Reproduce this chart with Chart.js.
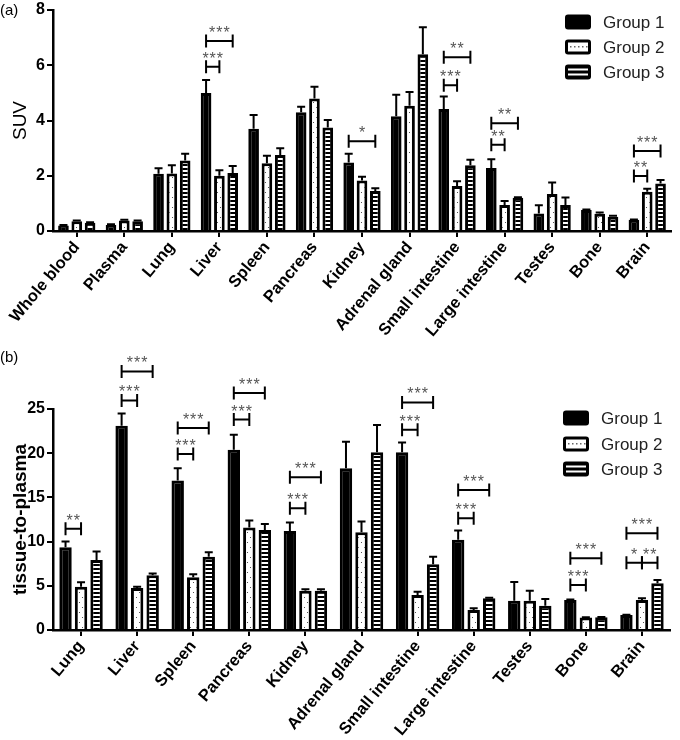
<!DOCTYPE html>
<html><head><meta charset="utf-8">
<script src="https://cdn.jsdelivr.net/npm/chart.js@4.4.0/dist/chart.umd.min.js"></script>
<style>
html,body{margin:0;padding:0;background:#fff;}
#wrap{position:relative;width:680px;height:740px;overflow:hidden;}
canvas{position:absolute;left:0;}
</style></head><body>
<div id="wrap">
<canvas id="ca" width="680" height="360" style="top:0"></canvas>
<canvas id="cb" width="680" height="400" style="top:340px"></canvas>
</div>
<script>
// ---------- DATA ----------
const groupNames = ['Group 1', 'Group 2', 'Group 3'];

const suvCategories = ['Whole blood','Plasma','Lung','Liver','Spleen','Pancreas','Kidney','Adrenal gland','Small intestine','Large intestine','Testes','Bone','Brain'];
const suvG1    = [0.20, 0.22, 2.07, 5.00, 3.70, 4.30, 2.48, 4.15, 4.42, 2.28, 0.63, 0.76, 0.41];
const suvG1Err = [0.02, 0.02, 0.20, 0.47, 0.50, 0.20, 0.32, 0.78, 0.45, 0.32, 0.30, 0.02, 0.01];
const suvG2    = [0.35, 0.38, 2.08, 2.00, 2.45, 4.80, 1.83, 4.53, 1.63, 0.94, 1.34, 0.62, 1.42];
const suvG2Err = [0.03, 0.03, 0.30, 0.20, 0.27, 0.42, 0.13, 0.50, 0.17, 0.15, 0.42, 0.05, 0.11];
const suvG3    = [0.30, 0.35, 2.55, 2.10, 2.75, 3.75, 1.45, 6.40, 2.38, 1.20, 0.94, 0.52, 1.72];
const suvG3Err = [0.02, 0.03, 0.25, 0.25, 0.25, 0.27, 0.10, 0.98, 0.20, 0.02, 0.27, 0.03, 0.13];
const suvTicks = [0, 2, 4, 6, 8];
// significance: [category index, group from, group to, bracket height (SUV), label]
const suvSig = [
  [3, 0, 1, 5.95, '***'], [3, 0, 2, 6.88, '***'],
  [6, 0, 2, 3.25, '*'],
  [8, 0, 1, 5.28, '***'], [8, 0, 2, 6.29, '**'],
  [9, 0, 1, 3.12, '**'], [9, 0, 2, 3.90, '**'],
  [12, 0, 1, 1.99, '**'], [12, 0, 2, 2.90, '***']
];

const tpCategories = ['Lung','Liver','Spleen','Pancreas','Kidney','Adrenal gland','Small intestine','Large intestine','Testes','Bone','Brain'];
const tpG1    = [9.35, 23.1, 16.9, 20.4, 11.2, 18.3, 20.1, 10.2, 3.32, 3.40, 1.70];
const tpG1Err = [0.65, 1.40, 1.40, 1.70, 0.95, 3.00, 1.10, 1.05, 2.10, 0.05, 0.02];
const tpG2    = [4.90, 4.75, 5.97, 11.6, 4.45, 11.06, 3.96, 2.26, 3.32, 1.40, 3.40];
const tpG2Err = [0.50, 0.15, 0.33, 0.80, 0.15, 1.20, 0.38, 0.20, 1.13, 0.05, 0.20];
const tpG3    = [7.93, 6.20, 8.30, 11.3, 4.45, 20.1, 7.44, 3.59, 2.75, 1.45, 5.28];
const tpG3Err = [0.94, 0.18, 0.50, 0.70, 0.15, 3.10, 0.86, 0.06, 0.75, 0.02, 0.38];
const tpTicks = [0, 5, 10, 15, 20, 25];
const tpSig = [
  [0, 0, 1, 11.44, '**'],
  [1, 0, 1, 25.97, '***'], [1, 0, 2, 29.25, '***'],
  [2, 0, 1, 19.90, '***'], [2, 0, 2, 22.84, '***'],
  [3, 0, 1, 23.80, '***'], [3, 0, 2, 26.80, '***'],
  [4, 0, 1, 13.78, '***'], [4, 0, 2, 17.29, '***'],
  [6, 0, 1, 22.65, '***'], [6, 0, 2, 25.74, '***'],
  [7, 0, 1, 12.65, '***'], [7, 0, 2, 15.85, '***'],
  [9, 0, 1, 5.10, '***'], [9, 0, 2, 8.12, '***'],
  [10, 0, 1, 7.62, '*'], [10, 1, 2, 7.62, '**'], [10, 0, 2, 10.95, '***']
];

// ---------- PATTERNS ----------
function dotPattern(ctx) {
  const c = document.createElement('canvas'); c.width = 6; c.height = 10;
  const x = c.getContext('2d');
  x.fillStyle = '#fff'; x.fillRect(0, 0, 6, 10);
  x.fillStyle = '#555'; x.fillRect(1, 2, 1, 1); x.fillRect(4, 7, 1, 1);
  return ctx.createPattern(c, 'repeat');
}
function stripePattern(ctx) {
  const c = document.createElement('canvas'); c.width = 4; c.height = 4;
  const x = c.getContext('2d');
  x.fillStyle = '#fff'; x.fillRect(0, 0, 4, 4);
  x.fillStyle = '#000'; x.fillRect(0, 0, 4, 2);
  return ctx.createPattern(c, 'repeat');
}

const FONT = "'Liberation Sans', Arial, sans-serif";

function rrect(ctx, x, y, w, h, r) {
  ctx.beginPath();
  ctx.moveTo(x + r, y); ctx.lineTo(x + w - r, y); ctx.quadraticCurveTo(x + w, y, x + w, y + r);
  ctx.lineTo(x + w, y + h - r); ctx.quadraticCurveTo(x + w, y + h, x + w - r, y + h);
  ctx.lineTo(x + r, y + h); ctx.quadraticCurveTo(x, y + h, x, y + h - r);
  ctx.lineTo(x, y + r); ctx.quadraticCurveTo(x, y, x + r, y); ctx.closePath();
}

function makeChart(id, cfg) {
  const canvas = document.getElementById(id);
  const ctx = canvas.getContext('2d');
  const pats = ['#000', dotPattern(ctx), stripePattern(ctx)];
  const vals = [cfg.g1, cfg.g2, cfg.g3];
  const errs = [cfg.e1, cfg.e2, cfg.e3];

  const overlay = {
    id: 'overlay',
    afterDatasetsDraw(chart) {
      const c = chart.ctx, ys = chart.scales.y;
      c.save();
      c.strokeStyle = '#000'; c.lineWidth = 2;
      for (let d = 0; d < 3; d++) {
        const meta = chart.getDatasetMeta(d);
        meta.data.forEach((bar, i) => {
          const e = errs[d][i];
          if (!e) return;
          const y0 = ys.getPixelForValue(vals[d][i]);
          const y1 = ys.getPixelForValue(vals[d][i] + e);
          c.beginPath();
          c.moveTo(bar.x, y0); c.lineTo(bar.x, y1);
          c.moveTo(bar.x - 4, y1); c.lineTo(bar.x + 4, y1);
          c.stroke();
        });
      }
      c.restore();
    },
    afterDraw(chart) {
      const c = chart.ctx, ys = chart.scales.y;
      c.save();
      // significance brackets
      c.strokeStyle = '#000'; c.lineWidth = 2;
      cfg.sig.forEach(s => {
        const xa = chart.getDatasetMeta(s[1]).data[s[0]].x;
        const xb = chart.getDatasetMeta(s[2]).data[s[0]].x;
        const y = ys.getPixelForValue(s[3]);
        c.beginPath();
        c.moveTo(xa, y); c.lineTo(xb, y);
        c.moveTo(xa, y - 6.5); c.lineTo(xa, y + 6.5);
        c.moveTo(xb, y - 6.5); c.lineTo(xb, y + 6.5);
        c.stroke();
        c.fillStyle = '#555';
        c.font = '16px ' + FONT;
        try { c.letterSpacing = '1px'; } catch (e) {}
        c.textAlign = 'center'; c.textBaseline = 'alphabetic';
        c.fillText(s[4], (xa + xb) / 2 + 0.5, y - 3);
        try { c.letterSpacing = '0px'; } catch (e) {}
      });
      // panel label
      c.fillStyle = '#000';
      c.font = '15px ' + FONT;
      c.textAlign = 'left'; c.textBaseline = 'alphabetic';
      c.fillText(cfg.panel, 0, cfg.panelY);
      // legend
      const L = cfg.legend;
      for (let i = 0; i < 3; i++) {
        const y = L.ys[i];
        c.fillStyle = '#000';
        rrect(c, L.x, y - 7.5, 26, 15, 3); c.fill();
        if (i === 1) {
          c.fillStyle = '#fff'; c.fillRect(L.x + 3, y - 4.5, 20, 9);
          c.fillStyle = '#666';
          for (let k = 0; k < 5; k++) c.fillRect(L.x + 5 + k * 4, y - 1, 1.5, 1.5);
        } else if (i === 2) {
          c.fillStyle = '#fff';
          c.fillRect(L.x + 3, y - 3.5, 20, 2);
          c.fillRect(L.x + 3, y + 1.5, 20, 2);
        }
        c.fillStyle = '#222';
        c.font = '17px ' + FONT;
        c.textAlign = 'left'; c.textBaseline = 'middle';
        c.fillText(groupNames[i], L.tx, y + 1);
      }
      c.restore();
    }
  };

  return new Chart(ctx, {
    type: 'bar',
    data: {
      labels: cfg.labels,
      datasets: [0, 1, 2].map(d => ({
        label: groupNames[d],
        data: vals[d],
        backgroundColor: pats[d],
        borderColor: '#000',
        borderWidth: 3,
        borderSkipped: 'bottom',
        categoryPercentage: cfg.catPct,
        barPercentage: cfg.barPct
      }))
    },
    options: {
      responsive: false,
      animation: false,
      devicePixelRatio: 1,
      layout: { padding: { top: cfg.padTop, right: cfg.padRight, left: 0, bottom: 0 } },
      plugins: { legend: { display: false }, tooltip: { enabled: false } },
      scales: {
        x: {
          offset: true,
          grid: { display: true, drawOnChartArea: false, drawTicks: true, tickLength: 6, offset: false, color: '#000', lineWidth: 2 },
          border: { display: true, color: '#000', width: 2.5 },
          ticks: { color: '#000', font: { family: FONT, size: 16.5, weight: 'bold' }, minRotation: 50, maxRotation: 50, autoSkip: false, padding: 1 },
          afterFit(scale) { scale.height = cfg.xHeight; scale.paddingLeft = 0; scale.paddingRight = 0; }
        },
        y: {
          min: 0, max: cfg.yMax,
          afterBuildTicks(scale) { scale.ticks = cfg.ticks.map(v => ({ value: v })); },
          grid: { display: true, drawOnChartArea: false, drawTicks: true, tickLength: 6, color: '#000', lineWidth: 2 },
          border: { display: true, color: '#000', width: 2.5 },
          ticks: { color: '#000', font: { family: FONT, size: 16, weight: 'bold' }, padding: 2 },
          title: { display: true, text: cfg.title, color: '#000', font: cfg.titleFont, padding: { top: 9, bottom: 0 } },
          afterFit(scale) { scale.width = 53; scale.paddingTop = 0; scale.paddingBottom = 0; }
        }
      }
    },
    plugins: [overlay]
  });
}

makeChart('ca', {
  labels: suvCategories, g1: suvG1, g2: suvG2, g3: suvG3, e1: suvG1Err, e2: suvG2Err, e3: suvG3Err,
  sig: suvSig, ticks: suvTicks, yMax: 8, title: 'SUV',
  titleFont: { family: FONT, size: 19, weight: 'normal' },
  padTop: 10, padRight: 9, xHeight: 129, catPct: 0.84, barPct: 0.8,
  panel: '(a)', panelY: 15,
  legend: { x: 565, tx: 603, ys: [22, 47, 72] }
});

makeChart('cb', {
  labels: tpCategories, g1: tpG1, g2: tpG2, g3: tpG3, e1: tpG1Err, e2: tpG2Err, e3: tpG3Err,
  sig: tpSig, ticks: tpTicks, yMax: 25, title: 'tissue-to-plasma',
  titleFont: { family: FONT, size: 19, weight: 'bold' },
  padTop: 69, padRight: 10, xHeight: 110, catPct: 0.83, barPct: 0.8,
  panel: '(b)', panelY: 22,
  legend: { x: 563, tx: 601, ys: [78, 104, 129] }
});
</script>
</body></html>
